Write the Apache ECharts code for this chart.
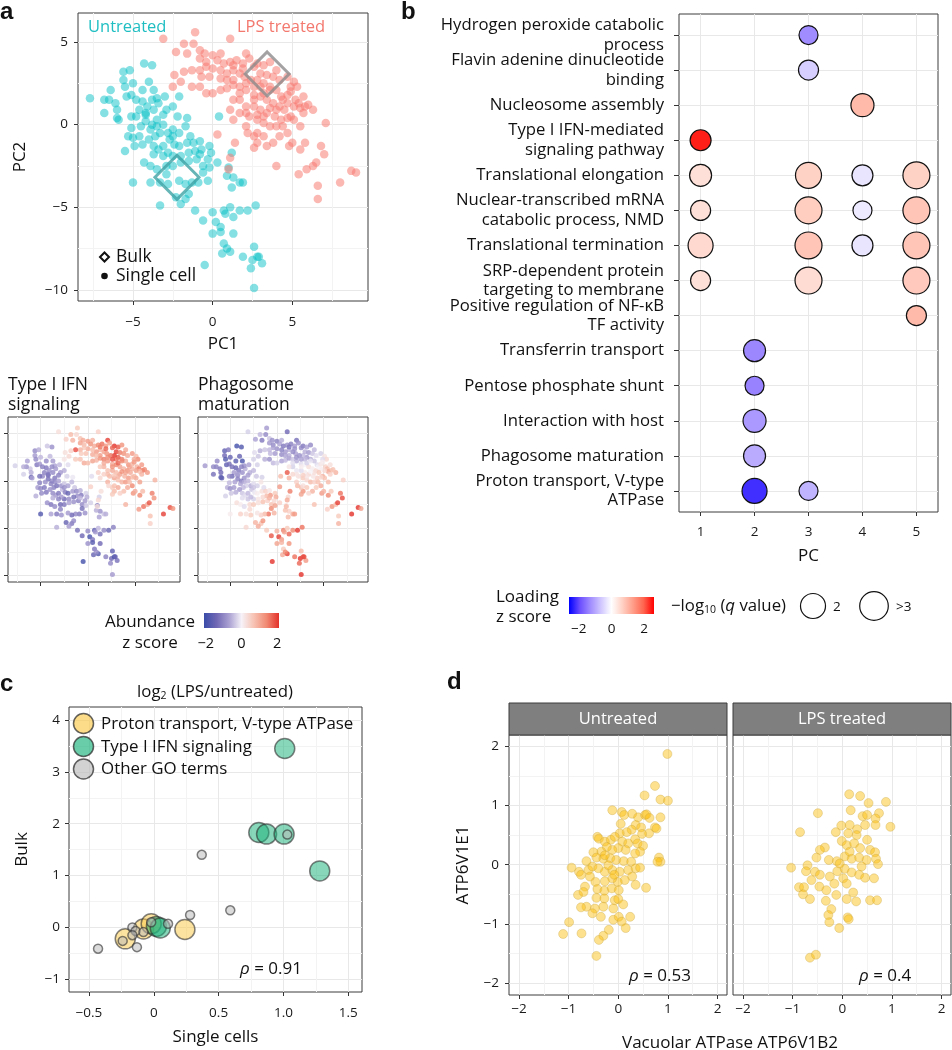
<!DOCTYPE html>
<html><head><meta charset="utf-8">
<script src="https://cdn.jsdelivr.net/npm/echarts@6/dist/echarts.min.js"></script>
<style>html,body{margin:0;padding:0;background:#fff}#c{width:952px;height:1050px}</style>
</head><body><div id="c"></div>
<script>
const FONT = '"Open Sans", "Noto Sans", sans-serif';

// ===== Panel a: single cells [PC1, PC2, Type I IFN z, Phagosome z]
const untreatedCells = [
[-5.6,3.2,-1.0,-1.6],[-5.6,2.7,-0.8,-1.4],[-5.2,3.3,-0.6,-1.2],[-5.5,2.3,-1.0,-1.8],[-5.0,2.5,-0.5,-1.5],
[-5.4,1.7,-1.2,-1.6],[-5.1,1.8,-0.8,-1.3],[-6.4,2.1,-0.7,-1.0],[-6.1,1.3,-0.4,-1.2],[-6.0,0.9,-0.6,-1.4],
[-6.5,1.5,-0.9,-1.1],[-6.8,0.7,-0.3,-1.3],[-6.0,0.4,-1.5,-1.7],[-5.9,0.3,-0.7,-1.6],[-7.7,1.6,-0.3,-0.8],
[-6.8,1.5,-0.6,-1.0],[-4.3,3.7,-0.4,-2.0],[-3.8,3.6,-0.9,-1.8],[-4.0,2.6,-0.5,-1.5],[-3.7,2.1,-0.8,-1.9],
[-4.4,2.1,-1.0,-1.7],[-4.8,1.5,-1.1,-1.3],[-4.4,1.4,-1.2,-1.5],[-4.1,1.1,-0.9,-1.2],[-4.6,0.9,-1.1,-0.8],
[-4.2,0.6,-1.3,-1.0],[-3.7,0.9,-1.0,-0.9],[-3.4,1.3,-0.8,-0.6],[-3.0,1.7,-0.5,-0.7],[-3.5,1.6,-0.7,-0.9],
[-3.8,1.5,-1.0,-1.1],[-4.2,0.7,-1.2,-0.7],[-4.8,0.5,-1.0,-1.4],[-5.1,0.5,-1.3,-1.0],[-2.1,1.7,-0.2,-0.3],
[-2.5,1.1,-0.6,-0.5],[-2.9,0.9,-0.8,-0.6],[-3.1,0.6,-1.1,-0.8],[-3.5,0.3,-1.2,-0.9],[-3.8,0.0,-1.0,-1.2],
[-4.2,0.2,-1.3,-1.1],[-4.5,-0.1,-0.9,-0.7],[-5.1,-0.2,-1.1,-0.5],[-5.3,-0.7,-0.8,-0.6],[-5.0,-0.8,-1.0,-0.9],
[-4.6,-0.7,-1.2,-0.8],[-4.9,-1.3,-1.0,-0.4],[-5.5,-1.6,-0.6,-0.3],[-3.9,-0.3,-1.1,-0.7],[-3.5,-0.1,-1.0,-0.6],
[-3.1,0.0,-0.7,-0.5],[-3.3,-0.5,-1.3,-0.3],[-3.6,-0.7,-1.1,-0.5],[-4.0,-0.9,-0.9,-0.8],[-4.4,-1.2,-1.2,-0.6],
[-3.7,-1.3,-1.0,-0.4],[-3.4,-1.5,-0.8,-0.2],[-3.1,-1.3,-1.2,-0.5],[-2.7,-0.9,-0.5,-0.4],[-2.8,-0.5,-0.9,-0.6],
[-2.5,-0.3,-0.4,-0.2],[-2.2,0.5,-0.3,-0.4],[-1.6,0.4,-0.1,-0.3],[-1.7,-0.1,-0.5,0.2],[-2.1,-0.5,-0.7,-0.3],
[-2.5,-0.7,-0.9,-0.4],[-2.4,-1.2,-1.1,-0.1],[-2.1,-1.3,-1.5,0.1],[-1.6,-1.1,-0.8,0.3],[-1.4,-0.7,-0.4,-0.2],
[-1.2,-1.1,-1.0,0.5],[-0.8,-1.0,-0.6,0.2],[-0.7,-1.5,-1.2,1.2],[-1.1,-1.6,-0.9,0.8],[-1.5,-1.7,-1.3,0.4],
[-2.0,-1.9,-1.0,0.2],[-2.5,-1.9,-1.4,-0.3],[-2.8,-1.7,-0.8,-0.5],[-3.1,-1.9,-1.1,-0.4],[-3.7,-1.8,-0.6,-0.2],
[-4.3,-2.3,-0.9,0.3],[-3.9,-2.5,-1.2,0.1],[-3.5,-2.7,-1.0,-0.2],[-2.9,-2.5,-1.4,0.4],[-2.5,-2.5,-1.2,0.6],
[-2.0,-2.3,-0.7,0.3],[-1.5,-2.2,-0.9,0.7],[-1.0,-2.1,-1.1,0.5],[-0.8,-1.8,-0.5,0.9],[-0.2,-1.3,-0.3,0.6],
[-0.1,-1.7,-0.6,1.0],[0.4,0.5,-0.2,0.8],[-0.3,-2.1,-0.8,0.4],[-0.6,-2.5,-1.0,0.7],[-0.2,-2.6,-0.4,1.1],
[0.3,-2.3,-0.3,0.5],[-0.6,-2.9,-1.3,1.4],[-0.3,-3.4,-0.9,0.9],[-0.9,-3.5,-1.2,1.6],[-1.3,-3.5,-1.0,0.8],
[-1.7,-3.6,-1.4,0.5],[-2.1,-3.4,-0.8,0.2],[-2.9,-3.0,-1.1,0.4],[-2.8,-3.6,-0.9,0.6],[-3.3,-3.5,-1.2,0.3],
[-3.9,-3.5,-0.7,0.5],[-5.0,-3.5,-1.8,0.1],[-3.3,-4.9,-0.6,0.4],[-2.3,-4.4,-1.5,0.9],[-1.7,-4.5,-1.2,0.7],
[-1.5,-4.2,-1.0,1.3],[-2.0,-4.8,-0.8,1.0],[-1.1,-5.2,-1.3,0.6],[-0.6,-5.8,-1.4,1.8],[0.0,-5.3,-1.0,0.9],
[0.7,-5.2,-1.6,1.5],[0.2,-5.9,-1.9,2.0],[0.5,-6.2,-1.2,1.2],[0.8,-5.4,-0.8,1.1],[1.1,-5.0,-0.5,0.6],
[1.3,-5.6,-1.3,1.7],[1.7,-5.2,-1.0,1.4],[1.2,-3.8,-0.7,0.8],[1.7,-3.5,-0.4,1.0],[1.3,-3.2,-0.9,0.5],
[1.0,-2.6,-1.1,0.3],[0.9,-3.1,-0.6,0.7],[1.2,-1.7,-0.3,0.4],[1.9,-3.5,-0.6,1.2],[2.2,-5.2,-1.5,2.1],
[2.7,-4.9,-1.1,1.6],[1.3,-6.6,-1.4,1.3],[0.5,-6.5,-1.7,0.9],[0.0,-6.6,-0.9,1.1],[0.7,-7.2,-1.2,0.6],
[0.6,-7.8,-1.5,1.0],[1.1,-7.7,-1.8,2.0],[0.9,-7.5,-0.9,1.4],[1.9,-8.0,-1.1,1.6],[2.5,-8.2,-1.4,2.2],
[2.8,-8.0,-1.9,1.8],[3.1,-8.4,-1.3,1.2],[2.6,-7.4,-1.6,0.8],[2.4,-8.7,-1.0,1.7],[-0.5,-8.5,-2.0,2.3],
[2.6,-9.9,-0.8,2.4],[2.9,-8.0,-1.5,1.9]
];
const lpsCells = [
[-3.1,5.2,0.3,-0.3],[-1.1,5.6,0.6,-0.8],[-1.2,4.9,0.4,-1.0],[-1.8,4.9,0.8,-0.5],[-2.3,4.4,0.5,-0.7],
[-1.6,4.3,0.9,-1.2],[-0.8,4.5,0.7,-0.4],[-0.5,4.3,1.0,-0.9],[0.0,4.2,1.2,-1.1],[0.5,4.3,0.9,-0.6],
[1.1,5.2,0.5,-1.4],[-0.8,4.0,1.1,-0.8],[-0.4,3.8,0.8,-1.0],[0.3,3.9,1.3,-0.7],[0.7,3.7,1.0,-1.2],
[1.1,3.8,1.4,-0.9],[1.5,3.9,1.6,-1.1],[1.9,3.7,1.2,-0.8],[2.1,4.3,2.0,-1.3],[2.3,4.0,1.1,-0.9],
[2.8,3.7,2.2,-1.2],[3.2,3.6,1.8,-0.7],[3.6,3.8,1.3,-1.0],[4.0,3.3,1.0,-0.5],[4.7,2.9,1.2,-0.3],
[5.1,2.6,0.8,0.2],[5.3,2.3,1.4,0.4],[4.9,2.3,1.0,-0.2],[5.2,1.5,0.9,0.5],[5.4,1.3,1.5,0.8],
[5.7,1.7,1.2,0.3],[5.8,1.1,1.6,0.6],[5.5,1.0,0.7,1.0],[5.1,1.1,1.1,0.4],[4.7,1.3,0.9,0.1],
[4.3,1.7,1.3,-0.2],[4.0,2.1,1.0,-0.4],[3.6,2.3,1.5,-0.6],[3.2,2.5,1.8,-0.8],[2.8,2.7,2.3,-0.5],
[2.4,2.7,1.6,-0.9],[2.0,2.9,1.3,-0.7],[1.7,3.1,1.1,-1.0],[1.3,3.3,0.9,-0.6],[0.9,3.1,1.2,-0.8],
[0.5,3.3,0.8,-1.1],[0.0,3.4,1.0,-0.9],[-0.4,3.5,0.6,-0.7],[-0.8,3.3,0.9,-0.5],[-1.3,3.3,1.9,-0.4],
[-1.8,3.2,0.5,-0.6],[-2.4,3.0,0.3,-0.2],[-2.0,2.6,0.4,-0.4],[-2.5,2.3,0.2,-0.3],[-1.3,2.3,0.6,-0.6],
[-0.8,2.3,0.7,-0.9],[-0.4,1.9,1.0,-0.5],[0.0,1.9,0.8,-0.3],[0.5,2.1,1.1,-0.7],[0.9,2.2,0.9,-0.5],
[1.3,2.4,1.3,-0.8],[1.7,2.3,1.5,-0.4],[2.1,2.1,1.2,-0.6],[2.6,1.8,1.0,-0.2],[3.0,1.7,1.4,0.0],
[3.4,1.5,1.1,0.3],[3.8,1.3,0.9,0.1],[4.2,1.1,1.3,0.4],[4.5,0.9,1.0,0.6],[4.9,0.5,0.8,0.9],
[4.3,0.3,1.2,0.5],[3.9,0.5,0.9,0.2],[3.4,0.7,1.1,0.4],[3.0,0.9,0.8,0.1],[2.6,1.1,1.0,-0.2],
[2.1,1.1,0.7,-0.1],[1.7,1.5,0.9,-0.3],[1.3,1.5,0.6,0.2],[1.1,0.9,0.5,1.8],[2.3,0.5,0.8,0.3],
[2.8,0.3,1.1,0.6],[3.2,0.1,0.7,0.4],[3.6,-0.1,0.9,0.8],[4.0,-0.1,1.2,0.5],[4.4,-0.1,0.8,0.7],
[4.7,-0.5,1.4,1.0],[4.2,-0.7,1.0,0.6],[3.8,-1.1,0.7,0.9],[3.4,-1.3,0.5,0.4],[2.8,-1.1,0.8,1.3],
[2.6,-0.7,0.6,0.7],[2.1,-0.1,0.9,0.5],[2.2,-0.5,0.4,0.8],[2.8,-0.5,0.7,0.3],[3.2,-0.7,1.0,0.6],
[1.4,-1.1,0.3,1.5],[0.3,-0.6,0.5,1.2],[1.1,-2.0,0.4,1.0],[1.0,-2.7,0.3,0.8],[2.6,-1.4,0.6,1.1],
[4.0,-2.5,0.9,0.7],[4.8,-1.3,1.3,1.2],[5.0,-1.1,1.0,0.9],[5.5,-1.5,1.4,1.4],[5.8,-1.1,0.8,0.6],
[5.4,-3.0,1.2,0.5],[5.9,-2.7,1.6,1.3],[6.3,-2.5,1.0,0.8],[6.8,-1.3,1.5,1.6],[7.0,-1.8,1.3,1.9],
[7.1,0.1,0.9,0.5],[6.5,-2.3,1.8,2.0],[6.6,-3.7,0.7,0.6],[6.6,-4.5,0.5,0.9],[8.0,-3.5,2.0,2.2],
[8.7,-2.8,1.9,2.4],[9.0,-2.9,1.3,1.1],[4.4,1.5,1.1,0.0],[4.7,1.8,0.9,0.2],[4.9,2.0,1.2,0.1],
[2.6,3.5,1.7,-1.0],[3.0,3.1,2.0,-0.6],[3.4,3.0,1.5,-0.8],[3.8,2.9,1.3,-0.4],[4.2,2.7,1.0,-0.2],
[3.0,2.3,1.6,-0.5],[2.6,2.3,1.9,-0.7],[2.1,2.5,1.4,-0.9],[1.3,2.7,1.2,-0.6],[1.7,1.9,1.0,-0.2],
[2.6,1.5,1.3,0.1],[3.2,1.9,1.7,-0.3],[3.6,2.1,1.4,-0.1],[-0.2,2.9,0.7,-0.8],[0.5,2.8,1.0,-1.0],
[0.9,2.7,0.8,-0.7],[-0.7,2.9,0.6,-0.5],[1.3,3.6,1.5,-1.2],[1.9,3.4,1.7,-0.9],[5.1,0.3,1.0,0.7],
[4.7,0.4,0.8,0.4],[4.0,0.9,1.1,0.3],[3.6,1.0,1.3,0.0],[3.2,0.5,0.9,0.2],[2.8,0.6,0.6,0.5],
[2.1,0.7,0.8,0.2],[1.7,0.7,0.5,0.4],[1.3,0.3,0.4,0.9],[5.5,-0.1,1.1,0.8],[5.7,0.7,0.9,0.5],
[6.3,0.9,1.2,0.9],[6.0,1.2,1.4,0.7]
];
const bulkUntreated = [[-2.24, -3.19]];
const bulkLps = [[3.42, 3.07]];
const pc1Ticks = [-5, 0, 5];
const pc1Minor = [-7.5, -2.5, 2.5, 7.5];
const pc2Ticks = [-10, -5, 0, 5];
const pc2Minor = [-7.5, -2.5, 2.5];

// ===== Panel b: GO terms
const goTerms = [
 'Hydrogen peroxide catabolic\nprocess','Flavin adenine dinucleotide\nbinding','Nucleosome assembly',
 'Type I IFN-mediated\nsignaling pathway','Translational elongation','Nuclear-transcribed mRNA\ncatabolic process, NMD',
 'Translational termination','SRP-dependent protein\ntargeting to membrane','Positive regulation of NF-\u03baB\nTF activity',
 'Transferrin transport','Pentose phosphate shunt','Interaction with host','Phagosome maturation',
 'Proton transport, V-type\nATPase'
];
// label order handed to the axis (all 14 terms)
const goTickOrder = [4, 0, 1, 2, 3, 5, 6, 7, 8, 9, 10, 11, 12, 13];
const pcTicks = [1, 2, 3, 4, 5];
// [PC, term index, loading z score, -log10 q]
const goBubbles = [
 [3,0,-1.3,1.33],[3,1,-0.55,1.43],[4,2,0.95,1.76],[1,3,2.4,1.53],
 [1,4,0.45,1.64],[3,4,0.65,2.13],[4,4,-0.3,1.53],[5,4,0.65,2.26],
 [1,5,0.45,1.43],[3,5,0.7,2.26],[4,5,-0.25,1.33],[5,5,0.8,2.26],
 [1,6,0.55,2.0],[3,6,0.8,2.26],[4,6,-0.3,1.53],[5,6,0.8,2.26],
 [1,7,0.45,1.43],[3,7,0.5,2.26],[5,7,0.75,2.26],
 [5,8,0.95,1.43],[2,9,-1.35,1.64],[2,10,-1.4,1.33],[2,11,-1.15,1.76],[2,12,-0.95,1.64],
 [2,13,-2.2,2.0],[3,13,-0.85,1.33]
];

// ===== Panel c: log2 (LPS/untreated), [single cells, bulk]
const protonTerms = [[-0.22,-0.22],[-0.08,-0.03],[-0.02,0.07],[0.24,-0.04]];
const ifnTerms = [[1.01,3.45],[0.81,1.83],[0.87,1.80],[1.005,1.80],[1.28,1.09],[0.02,0.02],[0.05,-0.01]];
const otherTerms = [[-0.43,-0.41],[-0.24,-0.26],[-0.13,-0.38],[-0.165,0.0],[-0.14,-0.07],[-0.165,-0.15],
 [-0.08,-0.09],[-0.02,0.10],[0.11,0.07],[0.28,0.24],[0.37,1.40],[0.59,0.33],[1.03,1.79]];
const cXTicks = [-0.5, 0, 0.5, 1, 1.5];
const cXMinor = [-0.25, 0.25, 0.75, 1.25];
const cYTicks = [-1, 0, 1, 2, 3, 4];
const cYMinor = [-0.5, 0.5, 1.5, 2.5, 3.5];

// ===== Panel d: [ATP6V1B2, ATP6V1E1]
const atpUntreated = [
[0.99,1.87],[0.74,1.33],[0.53,1.17],[0.85,1.10],[1.00,1.08],[-0.12,0.92],[0.07,0.89],[0.12,0.84],[0.28,0.86],
[0.40,0.80],[0.54,0.84],[0.57,0.85],[0.63,0.79],[0.85,0.80],[0.05,0.69],[0.35,0.67],[0.46,0.63],[0.74,0.63],
[0.77,0.61],[0.62,0.53],[0.48,0.52],[0.27,0.59],[0.17,0.55],[0.03,0.53],[-0.42,0.47],[-0.39,0.44],[-0.27,0.39],
[-0.15,0.42],[-0.07,0.47],[0.08,0.39],[0.20,0.36],[0.34,0.43],[0.39,0.36],[0.50,0.32],[0.44,0.22],[0.34,0.19],
[0.15,0.25],[0.00,0.28],[-0.12,0.25],[-0.23,0.30],[-0.34,0.22],[-0.50,0.21],[-0.44,0.12],[-0.30,0.10],[-0.16,0.11],
[-0.04,0.08],[0.11,0.06],[0.26,0.05],[0.82,0.12],[0.85,0.05],[0.79,0.05],[-0.64,0.06],[-0.94,-0.05],[-0.79,-0.12],
[-0.75,-0.17],[-0.60,-0.09],[-0.52,-0.03],[-0.40,-0.06],[-0.27,-0.12],[-0.12,-0.09],[0.03,-0.12],[0.20,-0.09],
[0.35,-0.06],[0.44,-0.05],[0.28,-0.20],[0.13,-0.26],[-0.01,-0.29],[-0.12,-0.23],[-0.27,-0.28],[-0.46,-0.29],
[-0.57,-0.20],[-0.67,-0.37],[-0.81,-0.51],[-0.70,-0.46],[-0.42,-0.41],[-0.28,-0.44],[-0.13,-0.40],[0.01,-0.43],
[0.35,-0.34],[0.56,-0.39],[-0.44,-0.56],[-0.28,-0.57],[-0.07,-0.60],[0.00,-0.58],[0.10,-0.67],[-0.10,-0.74],
[-0.30,-0.71],[-0.47,-0.74],[-0.64,-0.71],[-0.75,-0.72],[-0.52,-0.82],[-0.35,-0.88],[-0.10,-0.93],[0.01,-0.88],
[0.07,-0.96],[0.24,-0.88],[0.15,-1.07],[-0.19,-1.10],[-0.30,-1.20],[-0.39,-1.27],[-0.74,-1.16],[-0.99,-0.97],
[-1.11,-1.17],[-0.44,-1.54],[-0.27,0.16],[-0.20,-0.01],[-0.08,-0.17]
];
const atpLps = [
[0.14,1.19],[0.36,1.16],[0.53,1.04],[0.88,1.06],[-0.49,0.87],[0.17,0.92],[0.41,0.82],[0.50,0.84],[0.74,0.87],
[0.67,0.78],[0.97,0.64],[-0.85,0.55],[-0.02,0.66],[0.15,0.67],[0.30,0.60],[0.46,0.67],[0.67,0.67],[-0.13,0.55],
[0.12,0.53],[0.29,0.50],[0.50,0.42],[-0.01,0.40],[0.09,0.33],[0.24,0.36],[0.36,0.28],[0.56,0.25],[0.66,0.21],
[-0.35,0.29],[-0.45,0.25],[-0.52,0.12],[-0.27,0.08],[-0.11,0.06],[0.05,0.14],[0.19,0.10],[0.34,0.12],[0.49,0.08],
[0.68,0.10],[0.72,0.01],[-0.70,-0.01],[-1.03,-0.05],[-0.73,-0.11],[-0.55,-0.12],[-0.62,-0.26],[-0.45,-0.17],
[-0.25,-0.20],[-0.10,-0.11],[0.05,-0.07],[0.19,-0.13],[0.34,-0.17],[0.46,-0.22],[0.64,-0.23],[0.02,-0.23],
[-0.16,-0.32],[-0.46,-0.37],[-0.87,-0.38],[-0.77,-0.38],[-0.79,-0.50],[-0.65,-0.58],[-0.32,-0.43],[-0.12,-0.51],
[0.09,-0.32],[0.22,-0.47],[0.09,-0.58],[0.28,-0.62],[0.56,-0.60],[0.70,-0.60],[-0.33,-0.61],[-0.22,-0.75],
[-0.28,-0.85],[-0.26,-0.97],[0.11,-0.89],[0.13,-0.92],[-0.06,-1.07],[-0.65,-1.57],[-0.53,-1.52],[-0.05,0.02],
[0.39,-0.03],[0.15,0.22]
];
const dTicks = [-2, -1, 0, 1, 2];
const dMinor = [-1.5, -0.5, 0.5, 1.5];

// ===== colour scales
const abundanceColors = ['#3a4ca8','#6f67b4','#aaa0d2','#f6f2f8','#f7c2b2','#f08a73','#e3312a'];
const loadingColors = ['#0000ff','#6a4cff','#a08cff','#d0c6ff','#ffffff','#ffd2c6','#ff9f8a','#ff6650','#ff0000'];

// ===== helpers
function fmtNum(v){ return v < 0 ? '\u2212' + Math.abs(v) : String(v); }
function fmtDec(v){ return v === 0 ? '0' : (v < 0 ? '\u2212' : '') + Math.abs(v).toFixed(1); }
const grids = [], xAxes = [], yAxes = [];
function axisPair(gi, a, isX, arr){
  const base = {gridIndex: gi, type: 'value', min: a.min, max: a.max, inverse: !!a.inverse,
    axisLine: {show: false, onZero: false}};
  const major = Object.assign({}, base, {
    position: isX ? 'bottom' : 'left',
    axisTick: {show: a.ticks !== false, length: a.tickLen || 4, lineStyle: {color: '#333', width: 1}, customValues: a.major},
    axisLabel: {show: a.labels !== false, customValues: a.major, formatter: a.fmt || fmtNum, margin: a.margin || 12,
      fontSize: a.fontSize || 13.5, color: a.color || '#1a1a1a', fontFamily: FONT, lineHeight: a.lineHeight || 16,
      hideOverlap: false},
    splitLine: {show: true, lineStyle: {color: '#e8e8e8', width: 1}},
    name: a.name || '', nameLocation: 'middle', nameGap: a.nameGap || 30,
    nameTextStyle: {fontSize: 17, color: '#111', fontFamily: FONT}
  });
  const minor = Object.assign({}, base, {
    position: isX ? 'top' : 'right',
    axisTick: {show: false, customValues: a.minor && a.minor.length ? a.minor : [a.min]},
    axisLabel: {show: false, customValues: a.minor && a.minor.length ? a.minor : [a.min]},
    splitLine: {show: !!(a.minor && a.minor.length), lineStyle: {color: '#f3f3f3', width: 1}},
    name: ''
  });
  arr.push(major, minor);
  return arr.length - 2;
}
function addPanel(rect, xa, ya){
  const gi = grids.length;
  grids.push({left: rect[0], top: rect[1], width: rect[2], height: rect[3], show: true,
    borderColor: '#3c3c3c', borderWidth: 1, backgroundColor: '#ffffff', containLabel: false, outerBoundsMode: 'none'});
  return {x: axisPair(gi, xa, true, xAxes), y: axisPair(gi, ya, false, yAxes)};
}

const pcaX = {min: -8.45, max: 9.75, major: pc1Ticks, minor: pc1Minor};
const pcaY = {min: -10.68, max: 6.76, major: pc2Ticks, minor: pc2Minor};

const pA = addPanel([78, 13, 290, 288],
  Object.assign({}, pcaX, {name: 'PC1', nameGap: 35, margin: 13}),
  Object.assign({}, pcaY, {name: 'PC2', nameGap: 49, margin: 10}));
const pA1 = addPanel([8, 417, 172, 165], Object.assign({}, pcaX, {labels: false}), Object.assign({}, pcaY, {labels: false}));
const pA2 = addPanel([198, 417, 170, 165], Object.assign({}, pcaX, {labels: false}), Object.assign({}, pcaY, {labels: false}));
const pB = addPanel([679, 14, 259, 498],
  {min: 0.6, max: 5.4, major: pcTicks, name: 'PC', nameGap: 36, margin: 12},
  {min: -0.6, max: 13.6, inverse: true, major: goTickOrder, fmt: v => goTerms[Math.round(v)],
   margin: 15, lineHeight: 19.5, fontSize: 16.7, color: '#111', tickLen: 5});
const pC = addPanel([69, 707, 293, 285],
  {min: -0.654, max: 1.606, major: cXTicks, minor: cXMinor, fmt: fmtDec, name: 'Single cells', nameGap: 37, margin: 13},
  {min: -1.245, max: 4.25, major: cYTicks, minor: cYMinor, name: 'Bulk', nameGap: 38, margin: 9});
const pD1 = addPanel([509, 735, 218, 260],
  {min: -2.2, max: 2.19, major: dTicks, minor: dMinor, margin: 6},
  {min: -2.2, max: 2.19, major: dTicks, minor: dMinor, name: 'ATP6V1E1', nameGap: 37, margin: 10});
const pD2 = addPanel([733, 735, 218, 260],
  {min: -2.2, max: 2.19, major: dTicks, minor: dMinor, margin: 6},
  {min: -2.2, max: 2.19, major: dTicks, minor: dMinor, labels: false, ticks: false});

const series = [];
function sc(p, data, extra){ series.push(Object.assign({type: 'scatter', xAxisIndex: p.x, yAxisIndex: p.y, data: data, animation: false}, extra)); return series.length - 1; }

sc(pA, untreatedCells, {symbolSize: 8.5, itemStyle: {color: 'rgba(0,191,196,0.6)'}});
sc(pA, lpsCells, {symbolSize: 8.5, itemStyle: {color: 'rgba(248,118,109,0.65)'}});
sc(pA, bulkUntreated, {symbol: 'diamond', symbolSize: 44, itemStyle: {color: 'rgba(0,0,0,0)', borderColor: '#3fa3a5', borderWidth: 3}});
sc(pA, bulkLps, {symbol: 'diamond', symbolSize: 44, itemStyle: {color: 'rgba(0,0,0,0)', borderColor: '#8d8b8b', borderWidth: 3}});
const sIfn = sc(pA1, untreatedCells.concat(lpsCells), {symbolSize: 5, itemStyle: {opacity: 0.8}});
const sPhago = sc(pA2, untreatedCells.concat(lpsCells), {symbolSize: 5, itemStyle: {opacity: 0.8}});
const qSize = d => Math.sqrt(350 + 393 * (d[3] - 1.3));
const sGo = sc(pB, goBubbles, {symbolSize: qSize, itemStyle: {borderColor: '#111', borderWidth: 1.2, opacity: 1}});
const cBorder = {borderColor: 'rgba(45,45,45,0.75)', borderWidth: 1.5};
sc(pC, protonTerms, {symbolSize: 20, itemStyle: Object.assign({color: 'rgba(251,201,72,0.65)'}, cBorder)});
sc(pC, ifnTerms, {symbolSize: 20, itemStyle: Object.assign({color: 'rgba(26,178,123,0.65)'}, cBorder)});
sc(pC, otherTerms, {symbolSize: 9, itemStyle: Object.assign({color: 'rgba(186,186,186,0.65)'}, cBorder)});
const dStyle = {color: 'rgba(252,190,10,0.58)', borderColor: 'rgba(200,165,70,0.45)', borderWidth: 1};
sc(pD1, atpUntreated, {symbolSize: 9, itemStyle: dStyle});
sc(pD2, atpLps, {symbolSize: 9, itemStyle: dStyle});

function txt(x, y, text, o){
  o = o || {};
  return {type: 'text', x: x, y: y, z: 100, silent: true, style: Object.assign({text: text, fill: o.fill || '#111',
    font: (o.weight || 'normal') + ' ' + (o.size || 17) + 'px ' + (o.family || FONT),
    textAlign: o.align || 'left', textVerticalAlign: o.valign || 'middle'}, o.style || {})};
}
function grad(colors){
  return {type: 'linear', x: 0, y: 0, x2: 1, y2: 0,
    colorStops: colors.map((c, i) => ({offset: i / (colors.length - 1), color: c}))};
}
const LETTER = {weight: 'bold', size: 24, family: '"Liberation Sans", Arial, sans-serif'};
const rhoRich = {a: {fontSize: 17, fontFamily: FONT, fill: '#111'}, i: {fontSize: 17, fontFamily: FONT, fill: '#111', fontStyle: 'italic'}};
const subRich = {
  a: {fontSize: 16.8, fontFamily: FONT, fill: '#111'},
  s: {fontSize: 10.5, fontFamily: FONT, fill: '#111', padding: [8, 0, 0, 0]},
  i: {fontSize: 16.8, fontFamily: FONT, fill: '#111', fontStyle: 'italic'}};
const g = [
  txt(0, 12, 'a', LETTER), txt(401, 12, 'b', LETTER), txt(0, 684, 'c', LETTER), txt(447, 682, 'd', LETTER),
  txt(88, 27, 'Untreated', {fill: '#1fbec2', size: 16.5}),
  txt(237, 27, 'LPS treated', {fill: '#f3786e', size: 16.5}),
  {type: 'polygon', z: 100, shape: {points: [[104.5, 252.5], [109, 257], [104.5, 261.5], [100, 257]]}, style: {fill: 'none', stroke: '#111', lineWidth: 2}},
  txt(116, 257, 'Bulk', {size: 17.5}),
  {type: 'circle', z: 100, shape: {cx: 104.5, cy: 276, r: 3.3}, style: {fill: '#111'}},
  txt(116, 276, 'Single cell', {size: 17.5}),
  txt(8, 395, 'Type I IFN\nsignaling', {size: 17.5, style: {lineHeight: 20}}),
  txt(198, 395, 'Phagosome\nmaturation', {size: 17.5, style: {lineHeight: 20}}),
  // abundance colour bar
  txt(150, 622, 'Abundance', {align: 'center'}),
  txt(150, 643, 'z score', {align: 'center'}),
  {type: 'rect', z: 100, shape: {x: 204, y: 613, width: 75, height: 15}, style: {fill: grad(abundanceColors)}},
  txt(205.8, 644, '\u22122', {align: 'center', size: 14.5}), txt(241.5, 644, '0', {align: 'center', size: 14.5}), txt(277.2, 644, '2', {align: 'center', size: 14.5}),
  // loading colour bar + size legend
  txt(496, 597, 'Loading'), txt(496, 617, 'z score'),
  {type: 'rect', z: 100, shape: {x: 569, y: 597, width: 85, height: 17}, style: {fill: grad(loadingColors)}},
  txt(578.8, 629, '\u22122', {align: 'center', size: 13.5}), txt(611.5, 629, '0', {align: 'center', size: 13.5}), txt(644.2, 629, '2', {align: 'center', size: 13.5}),
  txt(671, 606, '{a|\u2212log}{s|10}{a| (}{i|q}{a| value)}', {style: {rich: subRich}}),
  {type: 'circle', z: 100, shape: {cx: 813, cy: 606, r: 12.5}, style: {fill: '#fff', stroke: '#111', lineWidth: 1.2}},
  txt(833, 607, '2', {size: 13.5}),
  {type: 'circle', z: 100, shape: {cx: 874, cy: 606, r: 14.3}, style: {fill: '#fff', stroke: '#111', lineWidth: 1.2}},
  txt(896, 607, '>3', {size: 13.5}),
  // panel c title & legend
  txt(215, 692, '{a|log}{s|2}{a| (LPS/untreated)}', {align: 'center', style: {rich: subRich}}),
  {type: 'circle', z: 100, shape: {cx: 83.5, cy: 723.5, r: 10}, style: {fill: 'rgba(251,201,72,0.65)', stroke: 'rgba(45,45,45,0.75)', lineWidth: 1.5}},
  {type: 'circle', z: 100, shape: {cx: 83.5, cy: 746.5, r: 10}, style: {fill: 'rgba(26,178,123,0.65)', stroke: 'rgba(45,45,45,0.75)', lineWidth: 1.5}},
  {type: 'circle', z: 100, shape: {cx: 83.5, cy: 769, r: 10}, style: {fill: 'rgba(186,186,186,0.65)', stroke: 'rgba(45,45,45,0.75)', lineWidth: 1.5}},
  txt(101, 724, 'Proton transport, V-type ATPase', {size: 16.9}),
  txt(101, 747, 'Type I IFN signaling', {size: 16.9}),
  txt(101, 769, 'Other GO terms', {size: 16.9}),
  txt(240, 969, '{i|\u03c1}{a| = 0.91}', {style: {rich: rhoRich}}),
  // panel d strips etc.
  {type: 'rect', z: 100, shape: {x: 509, y: 703, width: 218, height: 32}, style: {fill: '#7f7f7f', stroke: '#3c3c3c', lineWidth: 1}},
  {type: 'rect', z: 100, shape: {x: 733, y: 703, width: 218, height: 32}, style: {fill: '#7f7f7f', stroke: '#3c3c3c', lineWidth: 1}},
  txt(618, 719, 'Untreated', {align: 'center', fill: '#fff', size: 16.5}),
  txt(842, 719, 'LPS treated', {align: 'center', fill: '#fff', size: 16.5}),
  txt(629, 976, '{i|\u03c1}{a| = 0.53}', {style: {rich: rhoRich}}),
  txt(859, 976, '{i|\u03c1}{a| = 0.4}', {style: {rich: rhoRich}}),
  txt(730, 1043, 'Vacuolar ATPase ATP6V1B2', {align: 'center'})
];

const chart = echarts.init(document.getElementById('c'), null, {renderer: 'canvas'});
chart.setOption({
  backgroundColor: '#ffffff',
  animation: false,
  textStyle: {fontFamily: FONT},
  grid: grids, xAxis: xAxes, yAxis: yAxes,
  visualMap: [
    {type: 'continuous', show: false, seriesIndex: sIfn, dimension: 2, min: -2.1, max: 2.1, inRange: {color: abundanceColors}},
    {type: 'continuous', show: false, seriesIndex: sPhago, dimension: 3, min: -2.1, max: 2.1, inRange: {color: abundanceColors}},
    {type: 'continuous', show: false, seriesIndex: sGo, dimension: 2, min: -2.6, max: 2.6, inRange: {color: loadingColors}}
  ],
  series: series,
  graphic: {elements: g}
});
</script></body></html>
